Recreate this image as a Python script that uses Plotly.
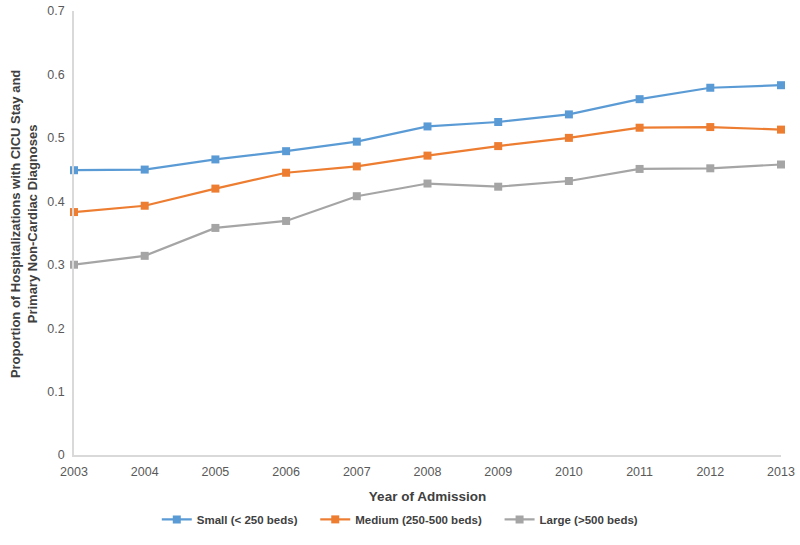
import plotly.graph_objects as go

years = [2003, 2004, 2005, 2006, 2007, 2008, 2009, 2010, 2011, 2012, 2013]
small = [0.449, 0.450, 0.466, 0.479, 0.494, 0.518, 0.525, 0.537, 0.561, 0.579, 0.583]
medium = [0.383, 0.393, 0.420, 0.445, 0.455, 0.472, 0.487, 0.500, 0.516, 0.517, 0.513]
large = [0.300, 0.314, 0.358, 0.369, 0.408, 0.428, 0.423, 0.432, 0.451, 0.452, 0.458]
names = ["Small (< 250 beds)", "Medium (250-500 beds)", "Large (>500 beds)"]
colors = ["#5B9BD5", "#ED7D31", "#A5A5A5"]
yticks = [0, 0.1, 0.2, 0.3, 0.4, 0.5, 0.6, 0.7]
yticklabels = ["0", "0.1", "0.2", "0.3", "0.4", "0.5", "0.6", "0.7"]
ytitle = "Proportion of Hospitalizations with CICU Stay and<br>Primary Non-Cardiac Diagnoses"
xtitle = "Year of Admission"

fig = go.Figure()
for name, vals, c in zip(names, [small, medium, large], colors):
    fig.add_trace(go.Scatter(
        x=years, y=vals, name="<b>" + name + "</b>" + "&nbsp;" * 4, mode="lines+markers",
        line=dict(color=c, width=2.2),
        marker=dict(symbol="square", size=8, color=c),
        cliponaxis=False,
    ))

font = "Liberation Sans, Arial, sans-serif"
fig.update_layout(
    width=800, height=545,
    margin=dict(l=74, r=19, t=11, b=90, autoexpand=False),
    paper_bgcolor="white", plot_bgcolor="white",
    font=dict(family=font, color="#595959", size=12),
    showlegend=True,
    legend=dict(orientation="h", x=0.47, xanchor="center", y=-0.145, yanchor="middle",
                font=dict(size=11.5, color="#404040", family=font),
                traceorder="normal"),
    xaxis=dict(
        range=[2003, 2013], tickvals=years, ticktext=[str(y) for y in years],
        showgrid=False, showline=True, linecolor="#d9d9d9", linewidth=1.5,
        ticks="outside", ticklen=4, tickcolor="rgba(0,0,0,0)",
        tickfont=dict(size=12.5, color="#595959"), zeroline=False, automargin=False,
        title=dict(text="<b>" + xtitle + "</b>", font=dict(size=13.5, color="#404040"), standoff=14),
    ),
    yaxis=dict(
        range=[0, 0.7], tickvals=yticks, ticktext=yticklabels,
        showgrid=False, showline=True, linecolor="#d9d9d9", linewidth=1.5,
        ticks="outside", ticklen=5, tickcolor="rgba(0,0,0,0)",
        tickfont=dict(size=12.5, color="#595959"), zeroline=False, automargin=False,
    ),
    annotations=[dict(
        text="<b>" + ytitle + "</b>", textangle=-90, xref="paper", yref="paper",
        x=0, xshift=-50, xanchor="center", y=0.52, yanchor="middle", showarrow=False,
        font=dict(size=13, color="#404040", family=font),
    )],
)

fig.write_html("out.html", config={"displayModeBar": False},
               post_script="document.body.style.margin='0';")
